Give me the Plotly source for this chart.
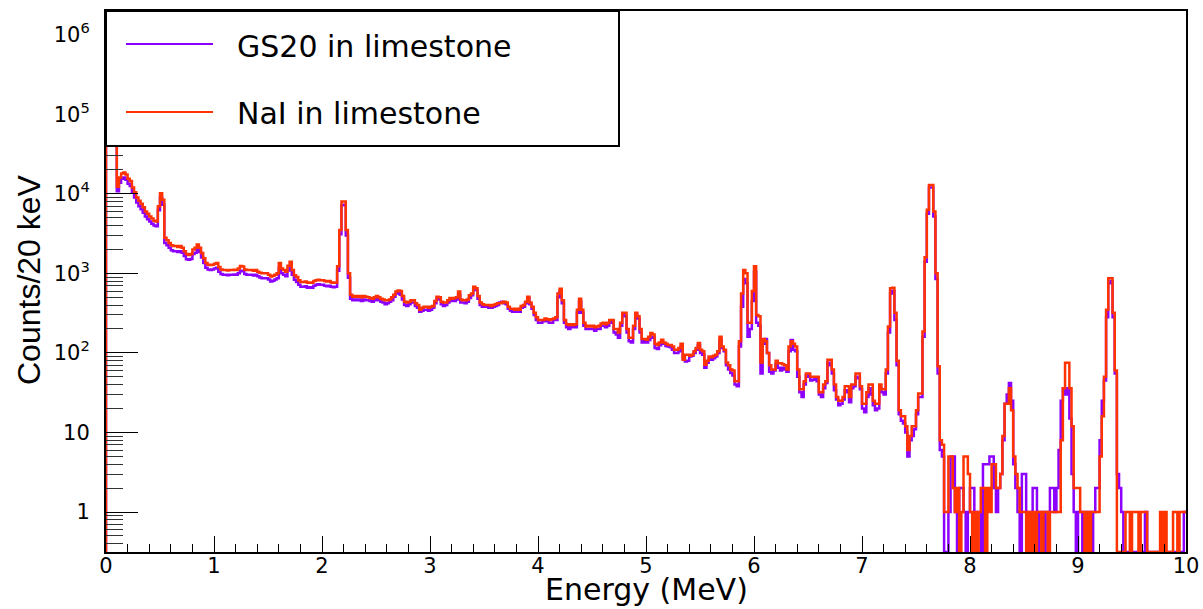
import numpy as np
import plotly.graph_objects as go

# ---------------- data (counts per 20 keV bin, 0-10 MeV, 500 bins) ----------------
bin_width_mev = 0.02
energy_min_mev = 0.0
energy_max_mev = 10.0

nai_counts = [
    # 0.00 - 0.48
    3.0e5, 1.5e5, 8.0e4, 6.0e4, 5.0e4, 1.23e4, 1.6e4, 1.8e4, 1.85e4, 1.75e4, 1.55e4, 1.45e4, 1.2e4, 1.05e4, 9.0e3, 8.2e3, 7.5e3, 6.8e3, 6.0e3, 5.6e3, 5.2e3, 4.9e3, 4.6e3, 4.5e3, 7.0e3,
    # 0.50 - 0.98
    1.02e4, 8.4e3, 2.8e3, 2.6e3, 2.4e3, 2.25e3, 2.2e3, 2.2e3, 2.15e3, 2.2e3, 2.1e3, 1.9e3, 1.75e3, 1.7e3, 1.75e3, 2.0e3, 2.1e3, 2.3e3, 2.1e3, 1.8e3, 1.55e3, 1.35e3, 1.28e3, 1.27e3, 1.28e3,
    # 1.00 - 1.48
    1.32e3, 1.35e3, 1.2e3, 1.12e3, 1.1e3, 1.1e3, 1.09e3, 1.1e3, 1.1e3, 1.11e3, 1.1e3, 1.15e3, 1.24e3, 1.22e3, 1.12e3, 1.1e3, 1.1e3, 1.1e3, 1.08e3, 1.1e3, 1.05e3, 1.02e3, 1.0e3, 1.0e3, 1.0e3,
    # 1.50 - 1.98
    9.6e2, 9.1e2, 9.3e2, 9.6e2, 1.0e3, 1.35e3, 1.15e3, 1.1e3, 1.05e3, 1.25e3, 1.4e3, 1.1e3, 9.5e2, 9.0e2, 8.2e2, 7.8e2, 7.8e2, 7.9e2, 7.6e2, 7.7e2, 7.6e2, 8.0e2, 8.2e2, 8.3e2, 8.2e2,
    # 2.00 - 2.48
    8.2e2, 8.0e2, 7.9e2, 8.0e2, 7.7e2, 7.6e2, 7.7e2, 1.23e3, 3.5e3, 8.0e3, 8.0e3, 3.5e3, 1.0e3, 5.4e2, 5.1e2, 5.2e2, 5.1e2, 5.2e2, 5.0e2, 5.2e2, 5.1e2, 5.0e2, 4.9e2, 4.8e2, 5.0e2,
    # 2.50 - 2.98
    5.2e2, 5.0e2, 4.8e2, 4.7e2, 4.6e2, 4.6e2, 4.7e2, 5.0e2, 5.4e2, 5.9e2, 6.1e2, 6.0e2, 5.2e2, 4.4e2, 4.3e2, 4.4e2, 4.6e2, 4.6e2, 4.2e2, 4.0e2, 3.5e2, 3.7e2, 3.8e2, 3.8e2, 3.7e2,
    # 3.00 - 3.48
    3.8e2, 3.9e2, 4.5e2, 5.1e2, 5.0e2, 4.4e2, 4.3e2, 4.3e2, 4.6e2, 4.9e2, 4.8e2, 4.9e2, 5.0e2, 5.9e2, 4.7e2, 4.6e2, 4.6e2, 4.7e2, 5.3e2, 5.6e2, 6.8e2, 6.5e2, 5.2e2, 4.3e2, 4.1e2,
    # 3.50 - 3.98
    4.0e2, 4.0e2, 4.0e2, 3.9e2, 4.0e2, 4.1e2, 4.2e2, 4.2e2, 4.3e2, 4.4e2, 4.3e2, 3.8e2, 3.6e2, 3.6e2, 3.5e2, 3.6e2, 3.5e2, 3.9e2, 4.0e2, 4.4e2, 5.1e2, 4.3e2, 3.8e2, 3.2e2, 2.8e2,
    # 4.00 - 4.48
    2.6e2, 2.6e2, 2.6e2, 2.7e2, 2.65e2, 2.6e2, 2.65e2, 2.7e2, 2.8e2, 5.6e2, 6.4e2, 4.6e2, 2.6e2, 2.3e2, 2.25e2, 2.3e2, 2.25e2, 2.3e2, 3.5e2, 4.8e2, 3.5e2, 2.4e2, 2.15e2, 2.2e2, 2.15e2,
    # 4.50 - 4.98
    2.2e2, 2.1e2, 2.15e2, 2.2e2, 2.35e2, 2.4e2, 2.3e2, 2.4e2, 2.6e2, 2.6e2, 2.0e2, 2.0e2, 1.8e2, 2.4e2, 3.2e2, 3.2e2, 2.0e2, 1.55e2, 1.55e2, 2.2e2, 3.2e2, 2.9e2, 2.0e2, 1.5e2, 1.5e2,
    # 5.00 - 5.48
    1.46e2, 1.6e2, 1.78e2, 1.7e2, 1.3e2, 1.26e2, 1.35e2, 1.46e2, 1.35e2, 1.3e2, 1.26e2, 1.26e2, 1.2e2, 1.1e2, 1.1e2, 1.15e2, 1.3e2, 82, 95, 95, 92, 95, 1.05e2, 1.15e2, 1.33e2,
    # 5.50 - 5.98
    1.1e2, 1.05e2, 71, 80, 90, 88, 92, 95, 1.05e2, 1.6e2, 1.2e2, 1.1e2, 76, 70, 62, 60, 44, 44, 1.4e2, 5.6e2, 1.1e3, 1.0e3, 2.4e2, 2.4e2, 6.0e2,
    # 6.00 - 6.48
    1.23e3, 3.0e2, 2.9e2, 76, 1.5e2, 1.4e2, 1.0e2, 70, 62, 62, 80, 74, 74, 72, 70, 62, 1.2e2, 1.4e2, 1.3e2, 1.2e2, 62, 35, 35, 44, 55,
    # 6.50 - 6.98
    55, 50, 50, 50, 50, 32, 32, 40, 44, 82, 82, 62, 40, 28, 25, 25, 28, 38, 38, 28, 40, 40, 55, 55, 38,
    # 7.00 - 7.48
    23, 23, 32, 40, 40, 25, 23, 23, 40, 35, 35, 62, 2.15e2, 6.5e2, 6.6e2, 3.2e2, 80, 19, 16, 16, 12, 6, 9, 12, 12,
    # 7.50 - 7.98
    19, 31, 31, 1.86e2, 1.6e3, 6.3e3, 1.29e4, 1.29e4, 6.0e3, 1.0e3, 68, 8, 7, 1, 1, 5, 5, 2, 1, 2, 0, 1, 5, 5, 3,
    # 8.00 - 8.48
    1, 0, 1, 0, 1, 2, 2, 0, 2, 1, 4, 4, 2, 2, 3, 9, 23, 23, 36, 19, 5, 3, 2, 1, 1,
    # 8.50 - 8.98
    1, 0, 1, 0, 1, 0, 1, 1, 0, 1, 1, 0, 1, 1, 1, 1, 1, 8, 36, 75, 75, 36, 12, 2, 2,
    # 9.00 - 9.48
    2, 1, 1, 0, 1, 0, 1, 1, 1, 1, 5, 16, 50, 3.5e2, 8.7e2, 8.7e2, 3.2e2, 60, 0, 0, 0, 0, 1, 1, 0,
    # 9.50 - 9.98
    1, 1, 1, 0, 1, 1, 1, 0, 0, 0, 0, 0, 0, 1, 0, 1, 0, 0, 0, 1, 1, 0, 1, 1, 1,
]

gs20_counts = [
    # 0.00 - 0.48
    2.6e5, 1.3e5, 7.0e4, 5.2e4, 4.4e4, 1.08e4, 1.38e4, 1.55e4, 1.6e4, 1.5e4, 1.34e4, 1.25e4, 1.04e4, 9.0e3, 7.8e3, 7.0e3, 6.4e3, 5.8e3, 5.2e3, 4.8e3, 4.5e3, 4.2e3, 4.0e3, 3.9e3, 6.2e3,
    # 0.50 - 0.98
    8.9e3, 7.3e3, 2.4e3, 2.25e3, 2.1e3, 1.95e3, 1.9e3, 1.9e3, 1.85e3, 1.9e3, 1.82e3, 1.65e3, 1.5e3, 1.48e3, 1.52e3, 1.75e3, 1.82e3, 2.0e3, 1.85e3, 1.58e3, 1.35e3, 1.18e3, 1.12e3, 1.1e3, 1.12e3,
    # 1.00 - 1.48
    1.15e3, 1.18e3, 1.05e3, 9.8e2, 9.6e2, 9.6e2, 9.5e2, 9.6e2, 9.6e2, 9.7e2, 9.6e2, 1.0e3, 1.08e3, 1.06e3, 9.8e2, 9.6e2, 9.6e2, 9.6e2, 9.4e2, 9.6e2, 9.2e2, 8.9e2, 8.7e2, 8.7e2, 8.7e2,
    # 1.50 - 1.98
    8.4e2, 7.9e2, 8.1e2, 8.4e2, 8.7e2, 1.18e3, 1.0e3, 9.6e2, 9.2e2, 1.09e3, 1.22e3, 9.6e2, 8.3e2, 7.8e2, 7.2e2, 6.8e2, 6.8e2, 6.9e2, 6.6e2, 6.7e2, 6.6e2, 7.0e2, 7.2e2, 7.3e2, 7.2e2,
    # 2.00 - 2.48
    7.2e2, 7.0e2, 6.9e2, 7.0e2, 6.8e2, 6.7e2, 6.8e2, 1.08e3, 3.1e3, 7.2e3, 7.3e3, 3.0e3, 8.8e2, 4.8e2, 4.6e2, 4.7e2, 4.6e2, 4.7e2, 4.5e2, 4.7e2, 4.6e2, 4.6e2, 4.5e2, 4.4e2, 4.6e2,
    # 2.50 - 2.98
    4.8e2, 4.6e2, 4.4e2, 4.3e2, 4.1e2, 4.2e2, 4.4e2, 4.6e2, 5.1e2, 5.6e2, 5.8e2, 5.4e2, 4.7e2, 4.0e2, 3.9e2, 4.1e2, 4.3e2, 4.3e2, 3.9e2, 3.7e2, 3.3e2, 3.4e2, 3.5e2, 3.5e2, 3.4e2,
    # 3.00 - 3.48
    3.5e2, 3.7e2, 4.2e2, 4.8e2, 4.7e2, 4.1e2, 3.9e2, 4.0e2, 4.3e2, 4.6e2, 4.5e2, 4.5e2, 4.7e2, 5.4e2, 4.3e2, 4.3e2, 4.2e2, 4.4e2, 4.9e2, 5.3e2, 6.4e2, 6.2e2, 4.8e2, 4.0e2, 3.8e2,
    # 3.50 - 3.98
    3.8e2, 3.8e2, 3.7e2, 3.7e2, 3.8e2, 3.9e2, 4.0e2, 4.3e2, 4.4e2, 4.2e2, 4.1e2, 3.6e2, 3.4e2, 3.3e2, 3.3e2, 3.4e2, 3.3e2, 3.7e2, 3.8e2, 4.2e2, 4.9e2, 4.1e2, 3.6e2, 3.0e2, 2.6e2,
    # 4.00 - 4.48
    2.4e2, 2.4e2, 2.5e2, 2.5e2, 2.5e2, 2.4e2, 2.4e2, 2.6e2, 2.6e2, 5.0e2, 6.0e2, 4.2e2, 2.4e2, 2.1e2, 2.0e2, 2.1e2, 2.1e2, 2.1e2, 3.2e2, 4.4e2, 3.2e2, 2.2e2, 2.0e2, 2.0e2, 2.0e2,
    # 4.50 - 4.98
    2.0e2, 1.9e2, 2.0e2, 2.0e2, 2.2e2, 2.2e2, 2.1e2, 2.2e2, 2.4e2, 2.5e2, 1.8e2, 1.7e2, 1.55e2, 2.2e2, 3.0e2, 2.9e2, 1.8e2, 1.4e2, 1.35e2, 2.0e2, 3.0e2, 2.7e2, 1.8e2, 1.35e2, 1.4e2,
    # 5.00 - 5.48
    1.35e2, 1.45e2, 1.6e2, 1.55e2, 1.15e2, 1.12e2, 1.25e2, 1.35e2, 1.3e2, 1.22e2, 1.2e2, 1.18e2, 1.1e2, 1.0e2, 1.0e2, 1.05e2, 1.2e2, 85, 78, 80, 90, 92, 1.0e2, 1.1e2, 1.25e2,
    # 5.50 - 5.98
    1.0e2, 95, 65, 75, 85, 82, 86, 90, 1.0e2, 1.45e2, 1.15e2, 1.05e2, 70, 62, 56, 52, 40, 38, 1.2e2, 3.8e2, 8.5e2, 7.5e2, 1.6e2, 2.0e2, 4.5e2,
    # 6.00 - 6.48
    1.05e3, 2.4e2, 2.2e2, 55, 1.3e2, 1.5e2, 1.0e2, 58, 55, 60, 72, 65, 60, 65, 62, 58, 1.05e2, 1.45e2, 1.1e2, 1.05e2, 50, 32, 28, 40, 52,
    # 6.50 - 6.98
    50, 45, 46, 48, 44, 30, 28, 36, 42, 75, 70, 55, 34, 26, 22, 23, 26, 34, 32, 24, 36, 38, 50, 48, 35,
    # 7.00 - 7.48
    20, 18, 28, 36, 30, 22, 19, 20, 36, 32, 30, 55, 1.8e2, 5.6e2, 6.0e2, 2.6e2, 70, 17, 14, 13, 10, 5, 8, 9, 11,
    # 7.50 - 7.98
    17, 28, 28, 1.6e2, 1.4e3, 5.6e3, 1.2e4, 1.2e4, 5.2e3, 8.5e2, 55, 6, 5, 0, 0, 1, 5, 5, 1, 0, 2, 2, 1, 0, 1,
    # 8.00 - 8.48
    2, 2, 0, 1, 1, 0, 4, 4, 4, 5, 5, 2, 1, 2, 3, 8, 23, 30, 42, 25, 4, 2, 1, 0, 3,
    # 8.50 - 8.98
    3, 1, 0, 1, 2, 2, 0, 1, 1, 0, 1, 1, 2, 2, 1, 2, 6, 25, 36, 30, 36, 15, 3, 1, 0,
    # 9.00 - 9.48
    1, 1, 0, 1, 1, 1, 0, 1, 2, 2, 8, 25, 45, 2.8e2, 7.5e2, 8.0e2, 2.8e2, 55, 3, 2, 1, 0, 0, 0, 0,
    # 9.50 - 9.98
    0, 0, 0, 0, 0, 0, 1, 0, 0, 0, 0, 0, 0, 0, 0, 0, 0, 0, 0, 0, 0, 0, 0, 0, 1,
]

series_names = ["GS20 in limestone", "NaI in limestone"]
series_colors = ["#8c00ff", "#ff3300"]

x_tick_values = list(range(0, 11))
y_tick_values = [1, 10, 100, 1e3, 1e4, 1e5, 1e6]
y_tick_labels = ["1", "10", "10<sup>2</sup>", "10<sup>3</sup>", "10<sup>4</sup>",
                 "10<sup>5</sup>", "10<sup>6</sup>"]

# ---------------- figure ----------------
LOG_YMIN, LOG_YMAX = -0.5025, 6.298
y_floor = 10 ** LOG_YMIN

n_bins = int(round((energy_max_mev - energy_min_mev) / bin_width_mev))
edges = energy_min_mev + bin_width_mev * np.arange(n_bins + 1)


def step_xy(counts):
    c = np.asarray(counts, dtype=float)
    assert len(c) == n_bins
    c = np.where(c > 0, c, y_floor)
    xs = np.concatenate([[edges[0]], edges])
    ys = np.concatenate([[y_floor], c, [c[-1]]])
    return xs, ys


fig = go.Figure()
for name, counts, color in zip(series_names, [gs20_counts, nai_counts], series_colors):
    xs, ys = step_xy(counts)
    fig.add_trace(go.Scatter(x=xs, y=ys, mode="lines", name=name,
                             line=dict(color=color, width=2.5, shape="hv"),
                             showlegend=False, hoverinfo="skip"))

axis_common = dict(showline=True, linecolor="black", linewidth=2, mirror=True,
                   showgrid=False, zeroline=False, ticks="inside",
                   tickcolor="black", tickwidth=1.3, automargin=False)

fig.update_xaxes(range=[energy_min_mev, energy_max_mev], tickvals=x_tick_values,
                 ticklen=16, tickfont=dict(family="DejaVu Sans", size=21, color="black"),
                 minor=dict(ticks="inside", ticklen=8, dtick=0.2, tickcolor="black",
                            tickwidth=1.2, showgrid=False),
                 ticklabelstandoff=-6, **axis_common)
fig.update_yaxes(type="log", range=[LOG_YMIN, LOG_YMAX], tickvals=y_tick_values,
                 ticktext=y_tick_labels, ticklen=32,
                 tickfont=dict(family="DejaVu Sans", size=21, color="black"),
                 minor=dict(ticks="inside", ticklen=17, dtick="D1", tickcolor="#333333",
                            tickwidth=1.2, showgrid=False),
                 ticklabelstandoff=10, **axis_common)

PLOT_L, PLOT_R, PLOT_T, PLOT_B = 106, 1186, 11, 552
W, H = 1203, 609
pw, ph = PLOT_R - PLOT_L, PLOT_B - PLOT_T


def px(x):
    return (x - PLOT_L) / pw


def py(y):
    return (PLOT_B - y) / ph


shapes = [
    dict(type="rect", xref="paper", yref="paper", x0=px(106), x1=px(619), y0=py(146), y1=py(11),
         line=dict(color="black", width=2), fillcolor="white", layer="above"),
]
legend_rows = [(44, 47), (112, 114)]
annotations = []
for (ly, ty), name, color in zip(legend_rows, series_names, series_colors):
    shapes.append(dict(type="line", xref="paper", yref="paper", x0=px(126), x1=px(213),
                       y0=py(ly), y1=py(ly), line=dict(color=color, width=2), layer="above"))
    annotations.append(dict(xref="paper", yref="paper", x=px(235), y=py(ty), text=name,
                            showarrow=False, xanchor="left", yanchor="middle",
                            font=dict(family="DejaVu Sans", size=30, color="black")))

annotations.append(dict(xref="paper", yref="paper", x=0.5, y=py(609), text="Energy (MeV)",
                        showarrow=False, xanchor="center", yanchor="bottom",
                        font=dict(family="DejaVu Sans", size=30, color="black")))
annotations.append(dict(xref="paper", yref="paper", x=px(29), y=py(280), text="Counts/20 keV",
                        showarrow=False, xanchor="center", yanchor="middle", textangle=-90,
                        font=dict(family="Liberation Sans", size=32, color="black")))

fig.update_layout(width=W, height=H, margin=dict(l=PLOT_L, r=W - PLOT_R, t=PLOT_T, b=H - PLOT_B),
                  paper_bgcolor="white", plot_bgcolor="white", showlegend=False,
                  shapes=shapes, annotations=annotations)

fig.write_html("out.html")
